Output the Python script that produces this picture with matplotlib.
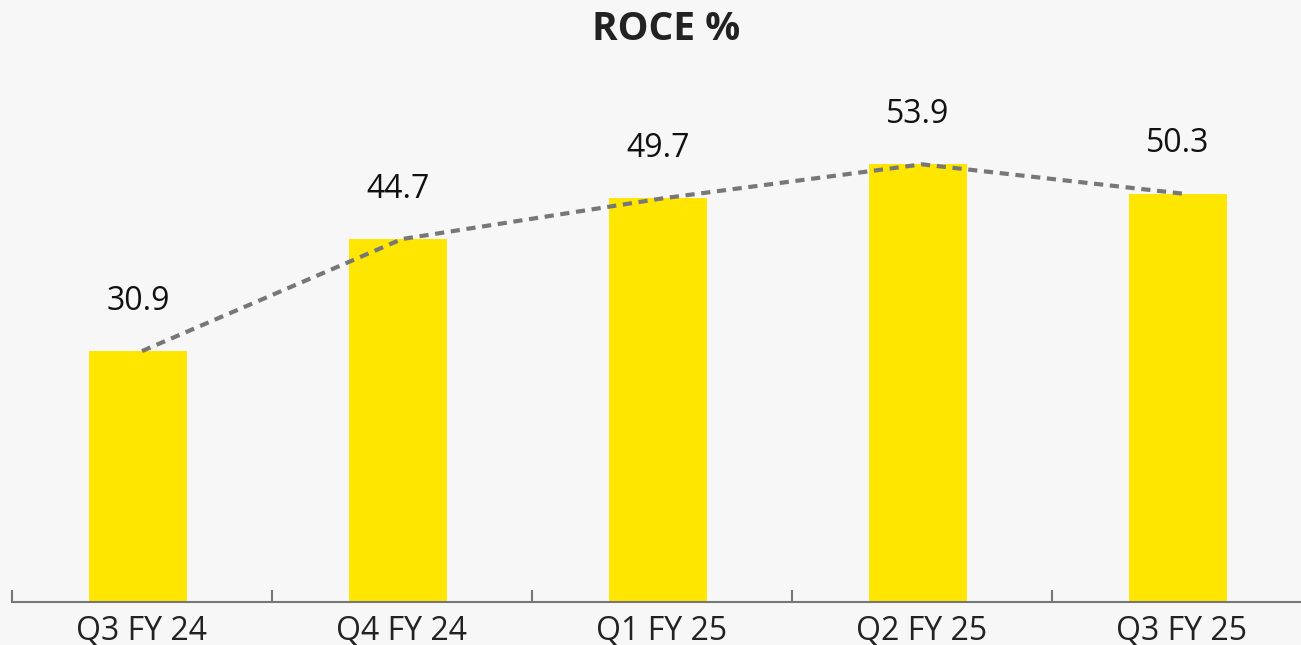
import numpy as np
import matplotlib.pyplot as plt

# datos del grafico
quarters = ["Q3 FY 24", "Q4 FY 24", "Q1 FY 25", "Q2 FY 25", "Q3 FY 25"]
roce = [30.9, 44.7, 49.7, 53.9, 50.3]

plt.rcParams['font.family'] = ['Open Sans', 'DejaVu Sans']
bg = "#f7f7f7"

fig = plt.figure(figsize=(13.01, 6.45), dpi=100, facecolor=bg)
ax = fig.add_axes([12/1301, 43/645, 1300/1301, 602/645])
ax.set_facecolor(bg)

x = np.arange(len(quarters))
ax.bar(x - 0.015, roce, width=0.377, color="#FFE600", zorder=2)
ax.plot(x, roce, linestyle=(0, (2.2, 1.6)), color="#777777", linewidth=3, zorder=3)

for xi, v in zip(x, roce):
    ax.annotate(f"{v}", (xi - 0.015, v), xytext=(0, 24), textcoords="offset points",
                ha="center", va="bottom", fontsize=23, color="#111111")

ax.set_xlim(-0.5, 4.5)
ax.set_ylim(0, 602/8.12)

# ticks en los limites de categoria, etiquetas en el centro
ax.set_xticks(np.arange(-0.5, 5, 1))
ax.set_xticklabels([])
ax.set_xticks(x, minor=True)
ax.set_xticklabels(quarters, minor=True, fontsize=23, color="#222222")
ax.tick_params(axis="x", which="major", direction="in", length=9, width=1.5, color="#777777")
ax.tick_params(axis="x", which="minor", length=0, pad=9)
ax.set_yticks([])

for s in ["top", "right", "left"]:
    ax.spines[s].set_visible(False)
ax.spines["bottom"].set_color("#777777")
ax.spines["bottom"].set_linewidth(1.5)

fig.text(666/1301, 1 - 29/645, "ROCE %", ha="center", va="center",
         fontsize=28, fontweight="bold", color="#222222")

fig.savefig("out.png", dpi=100, facecolor=bg)
